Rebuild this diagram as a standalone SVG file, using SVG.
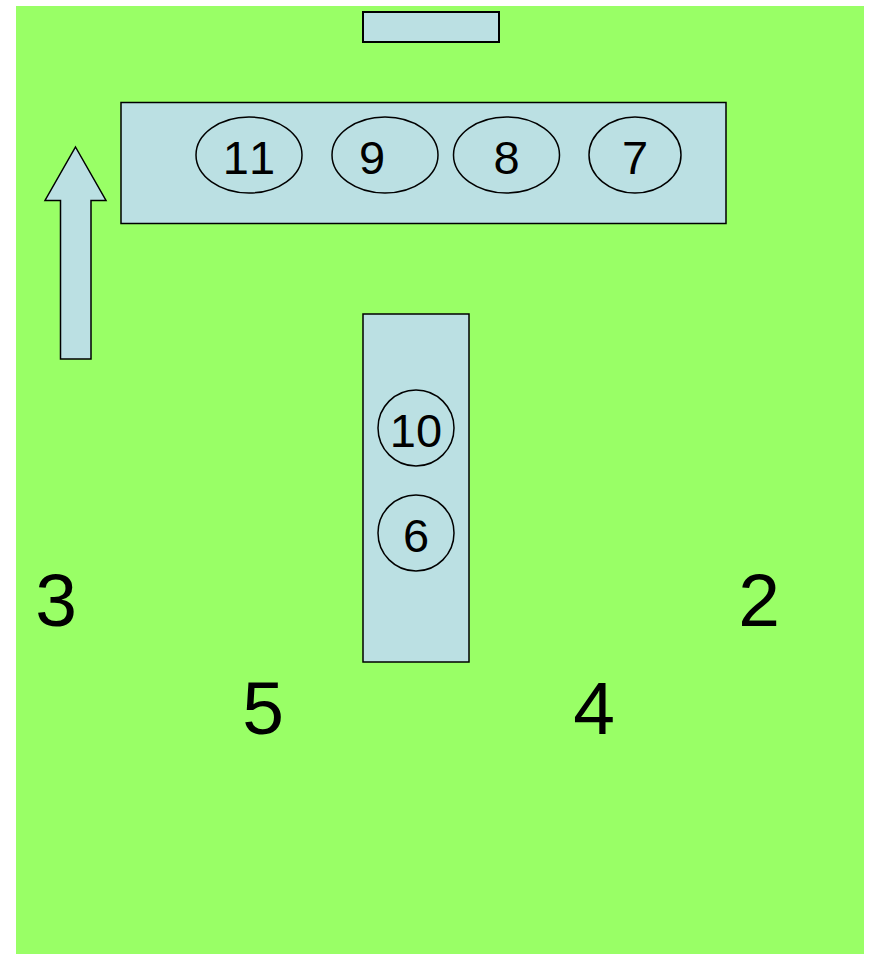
<svg xmlns="http://www.w3.org/2000/svg" width="870" height="954" viewBox="0 0 870 954">
<style>
.box{fill:#BBE0E3;stroke:#000;stroke-width:1.5}
.ov{fill:none;stroke:#000;stroke-width:1.5}
.t{font-family:"Liberation Sans",Arial,sans-serif;font-size:47px;fill:#000;text-anchor:middle;font-kerning:none}
.big{font-family:"Liberation Sans",Arial,sans-serif;font-size:75px;fill:#000;text-anchor:middle}
</style>
<rect x="0" y="0" width="870" height="954" fill="#fff"/>
<rect id="floor" x="16" y="6" width="848" height="948" fill="#99FF66"/>
<g id="top-block"><rect class="box" x="363" y="12" width="136" height="30" style="stroke-width:2"/></g>
<g id="upper-table">
<rect class="box" x="121" y="102.5" width="605" height="121"/>
</g>
<g id="n11"><ellipse class="ov" cx="249" cy="155" rx="53" ry="38"/><text class="t" x="249" y="173.5">11</text></g>
<g id="n9"><ellipse class="ov" cx="385" cy="155" rx="53" ry="38"/><text class="t" x="372" y="173.5">9</text></g>
<g id="n8"><ellipse class="ov" cx="506.5" cy="155" rx="53" ry="38"/><text class="t" x="506.5" y="173.5">8</text></g>
<g id="n7"><ellipse class="ov" cx="635" cy="155" rx="46" ry="38"/><text class="t" x="635" y="173.5">7</text></g>
<g id="center-table"><rect class="box" x="363" y="314" width="106" height="348"/></g>
<g id="n10"><circle class="ov" cx="416" cy="428" r="38"/><text class="t" x="416" y="446.5">10</text></g>
<g id="n6"><circle class="ov" cx="416" cy="533" r="38"/><text class="t" x="416" y="551.5">6</text></g>
<g id="connectors">
<path class="box" d="M75.5,147 L106,200.5 L91,200.5 L91,359 L60.5,359 L60.5,200.5 L45,200.5 Z"/>
</g>
<g id="n3"><text class="big" x="56" y="626">3</text></g>
<g id="n2"><text class="big" x="759" y="626">2</text></g>
<g id="n5"><text class="big" x="263" y="734">5</text></g>
<g id="n4"><text class="big" x="594" y="734">4</text></g>
</svg>
